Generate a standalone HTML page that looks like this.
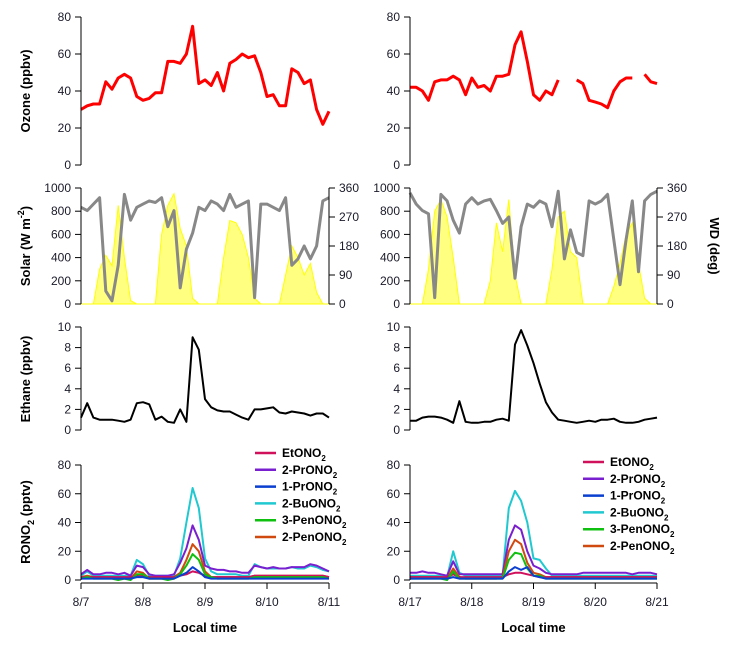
<!DOCTYPE html>
<html><head><meta charset="utf-8"><style>
html,body{margin:0;padding:0;background:#fff;}
svg{display:block;font-family:"Liberation Sans",Arial,sans-serif;}
.tk{font-size:12px;fill:#1a1a2a;}
.lab{font-size:13px;font-weight:bold;fill:#000;}
.leg{font-size:12px;font-weight:bold;fill:#000;}
</style></head><body>
<svg id="chart" width="733" height="645" viewBox="0 0 733 645" xmlns="http://www.w3.org/2000/svg"></svg>
<script>
// ---- data: samples every 0.1 day over 4 days (41 points) ----
const leftDates = ["8/7","8/8","8/9","8/10","8/11"];
const rightDates = ["8/17","8/18","8/19","8/20","8/21"];
const ozoneLeft = [30,32,33,33,45,41,47,49,47,37,35,36,39,39,56,56,55,60,75,44,46,43,50,40,55,57,60,58,59,50,37,38,32,32,52,50,44,46,30,22,29];
const ozoneRight = [42,42,40,35,45,46,46,48,46,38,47,42,43,40,48,48,49,65,72,56,38,35,40,38,46,null,null,46,44,35,34,33,31,40,45,47,47,null,49,45,44];
const solarLeft = [0,0,0,300,420,330,850,400,30,0,0,0,0,600,850,950,650,500,50,0,0,0,0,400,720,700,600,400,50,0,0,0,0,250,500,400,250,350,100,0,0];
const solarRight = [0,0,0,300,800,900,750,400,0,0,0,0,0,200,700,450,900,250,0,0,0,0,0,300,750,800,450,400,0,0,0,0,0,150,350,600,700,350,50,0,0];
const wdLeft = [300,290,310,330,40,10,120,340,260,300,310,320,315,330,240,290,50,170,220,300,290,320,310,290,340,300,310,320,20,310,310,300,290,330,120,140,180,140,180,320,330];
const wdRight = [345,310,290,280,20,340,320,260,220,310,330,310,320,325,290,250,270,80,240,310,300,320,310,240,350,140,230,160,150,320,310,320,340,200,60,200,320,100,320,340,350];
const ethaneLeft = [1.2,2.6,1.2,1.0,1.0,1.0,0.9,0.8,1.0,2.6,2.7,2.5,1.0,1.3,0.8,0.7,2.0,0.8,9.0,7.8,3.0,2.2,1.9,1.8,1.8,1.5,1.2,1.0,2.0,2.0,2.1,2.2,1.7,1.6,1.8,1.7,1.6,1.4,1.6,1.6,1.2];
const ethaneRight = [0.9,0.9,1.2,1.3,1.3,1.2,1.0,0.7,2.8,0.8,0.7,0.7,0.8,0.8,1.0,1.1,0.9,8.3,9.7,8.2,6.5,4.5,2.7,1.7,1.0,0.9,0.8,0.7,0.8,0.9,0.8,1.0,1.0,1.1,0.8,0.7,0.7,0.8,1.0,1.1,1.2];
const seriesNames = ["EtONO2","2-PrONO2","1-PrONO2","2-BuONO2","3-PenONO2","2-PenONO2"];
const seriesColors = ["#d0105a","#7a1fd0","#0a3fd0","#20c8d0","#10c010","#d04a10"];
const etLeft   = [2,2,2,2,2,2,2,2,2,3,3,2,2,2,2,2,3,4,6,5,3,2,2,2,2,2,2,2,3,3,3,3,3,3,3,3,3,3,3,3,2];
const prLeft   = [4,7,4,4,5,5,4,5,3,10,9,4,3,3,3,4,12,22,38,28,10,8,7,7,6,6,5,5,10,9,8,9,8,8,9,9,9,11,10,8,6];
const pr1Left  = [1,1,1,1,1,1,1,1,1,2,2,1,1,1,1,1,3,5,9,6,2,1,1,1,1,1,1,1,1,1,1,1,1,1,1,1,1,1,1,1,1];
const buLeft   = [3,6,3,3,3,3,3,3,3,14,11,3,3,3,3,3,15,40,64,50,15,6,4,4,4,4,3,3,11,9,8,8,8,8,9,8,8,10,9,7,6];
const pen3Left = [1,2,1,1,1,1,0,1,0,4,4,1,1,1,0,1,4,10,18,14,4,2,1,1,1,1,1,1,2,2,2,2,2,2,2,2,2,2,2,2,1];
const pen2Left = [2,3,2,2,2,2,1,2,1,6,5,1,1,1,1,2,5,14,25,20,6,2,2,2,2,2,2,2,3,3,3,3,3,3,3,3,3,3,3,3,2];
const etRight   = [2,2,2,2,2,2,2,4,2,2,2,2,2,2,2,2,4,5,5,4,3,2,2,2,2,2,2,2,2,2,2,2,2,2,2,2,2,2,2,2,2];
const prRight   = [5,5,6,5,5,4,3,13,4,4,4,4,4,4,4,4,28,38,35,20,10,8,5,4,4,4,4,4,5,5,5,5,5,5,5,5,4,5,5,5,4];
const pr1Right  = [1,1,1,1,1,1,1,2,1,1,1,1,1,1,1,1,6,9,7,9,3,2,1,1,1,1,1,1,1,1,1,1,1,1,1,1,1,1,1,1,1];
const buRight   = [3,3,3,3,3,3,2,20,5,3,3,3,3,3,3,3,50,62,55,40,15,14,8,3,3,3,3,3,3,3,3,3,3,3,3,3,3,3,3,3,3];
const pen3Right = [1,1,1,1,1,1,0,6,1,1,1,1,1,1,1,1,14,19,18,8,3,3,1,1,1,1,1,1,1,1,1,1,1,1,1,1,1,1,1,1,1];
const pen2Right = [2,2,2,2,2,2,1,8,2,1,1,1,1,1,1,2,20,28,25,12,5,4,2,2,2,2,2,2,2,2,2,2,2,2,2,2,2,2,2,2,2];
const ozoneTicks = [0,20,40,60,80];
const solarTicks = [0,200,400,600,800,1000];
const wdTicks = [0,90,180,270,360];
const ethaneTicks = [0,2,4,6,8,10];
const ronoTicks = [0,20,40,60,80];

const NS="http://www.w3.org/2000/svg";
const svg=document.getElementById('chart');
function mk(tag,attrs,parent){const e=document.createElementNS(NS,tag);for(const k in attrs)e.setAttribute(k,attrs[k]);(parent||svg).appendChild(e);return e;}
const cols={L:{x0:81,x1:329},R:{x0:410,x1:657}};
const rows={oz:{b:165,t:17,max:80},sol:{b:304,t:188,max:1000},wd:{b:304,t:188,max:360},eth:{b:430,t:327,max:10},ro:{b:580,t:465,max:80}};
function xs(c,i,n){return c.x0+(c.x1-c.x0)*i/(n-1);}
function ys(r,v){return r.b-(r.b-r.t)*v/r.max;}
function line(c,r,vals,color,w,name){
  let d="",pen=false;
  vals.forEach((v,i)=>{if(v===null){pen=false;return;}d+=(pen?"L":"M")+xs(c,i,vals.length).toFixed(1)+","+ys(r,v).toFixed(1);pen=true;});
  const p=mk('path',{d:d,fill:'none',stroke:color,'stroke-width':w,'stroke-linejoin':'round'});
  
  
}
function area(c,r,vals,name){
  let d="M"+c.x0+","+r.b;
  vals.forEach((v,i)=>{d+="L"+xs(c,i,vals.length).toFixed(1)+","+ys(r,v).toFixed(1);});
  d+="L"+c.x1+","+r.b+"Z";
  const p=mk('path',{d:d,fill:'#ffff80',stroke:'#ffff00','stroke-width':1});
  
  
}
function yaxis(x,r,ticks,side,name){
  const g=mk('g',{});
  
  
  mk('line',{x1:x,x2:x,y1:r.b,y2:r.t,stroke:'#000','stroke-width':1},g);
  ticks.forEach(v=>{
    const y=ys(r,v);
    const dx=side==='left'?-6:6;
    mk('line',{x1:x,x2:x+dx,y1:y,y2:y,stroke:'#000','stroke-width':1},g);
    const t=mk('text',{x:x+(side==='left'?-10:10),y:y+4,'text-anchor':side==='left'?'end':'start',class:'tk'},g);
    t.textContent=v;
  });
}
function xaxis(c,y,labels,name){
  const g=mk('g',{});
  
  
  mk('line',{x1:c.x0,x2:c.x1,y1:y,y2:y,stroke:'#000','stroke-width':1},g);
  labels.forEach((s,i)=>{
    const x=xs(c,i,labels.length);
    mk('line',{x1:x,x2:x,y1:y,y2:y+6,stroke:'#000','stroke-width':1},g);
    const t=mk('text',{x:x,y:y+23,'text-anchor':'middle',class:'tk'},g);t.textContent=s;
  });
  const t=mk('text',{x:(c.x0+c.x1)/2,y:y+49,'text-anchor':'middle',class:'lab','font-size':'14'},g);
  t.textContent='Local time';
}
function vlabel(x,y,txt,name,rot){
  const t=mk('text',{x:0,y:0,transform:`translate(${x},${y}) rotate(${rot||-90})`,'text-anchor':'middle',class:'lab'});
  t.innerHTML=txt;
  
  
}
// solar
area(cols.L,rows.sol,solarLeft,'solar-area-left');
area(cols.R,rows.sol,solarRight,'solar-area-right');
line(cols.L,rows.wd,wdLeft,'#888888',3,'wd-line-left');
line(cols.R,rows.wd,wdRight,'#888888',3,'wd-line-right');
// ozone
line(cols.L,rows.oz,ozoneLeft,'#ff0000',3,'ozone-line-left');
line(cols.R,rows.oz,ozoneRight,'#ff0000',3,'ozone-line-right');
// ethane
line(cols.L,rows.eth,ethaneLeft,'#000',2,'ethane-line-left');
line(cols.R,rows.eth,ethaneRight,'#000',2,'ethane-line-right');
// RONO2
const leftSeries=[etLeft,prLeft,pr1Left,buLeft,pen3Left,pen2Left];
const rightSeries=[etRight,prRight,pr1Right,buRight,pen3Right,pen2Right];
[3,1,5,0,4,2].forEach(i=>{
  line(cols.L,rows.ro,leftSeries[i],seriesColors[i],2,'rono2-line-left-'+i);
  line(cols.R,rows.ro,rightSeries[i],seriesColors[i],2,'rono2-line-right-'+i);
});
// axes
['L','R'].forEach(k=>{
  const c=cols[k];
  yaxis(c.x0,rows.oz,ozoneTicks,'left','ozone-y-axis-'+k);
  yaxis(c.x0,rows.sol,solarTicks,'left','solar-y-axis-'+k);
  yaxis(c.x1,rows.wd,wdTicks,'right','wd-y-axis-'+k);
  yaxis(c.x0,rows.eth,ethaneTicks,'left','ethane-y-axis-'+k);
  yaxis(c.x0,rows.ro,ronoTicks,'left','rono2-y-axis-'+k);
});
xaxis(cols.L,583,leftDates,'x-axis-left');
xaxis(cols.R,583,rightDates,'x-axis-right');
// labels
vlabel(30,91,'Ozone (ppbv)','ozone-y-title');
vlabel(30,246,'Solar (W m<tspan dy="-6" font-size="9">-2</tspan><tspan dy="6">)</tspan>','solar-y-title');
vlabel(710,246,'WD (deg)','wd-y-title',90);
vlabel(30,379,'Ethane (ppbv)','ethane-y-title');
vlabel(30,522,'RONO<tspan dy="4" font-size="9">2</tspan><tspan dy="-4"> (pptv)</tspan>','rono2-y-title');
// legends
function legend(x,y0,name){
  const g=mk('g',{});
  
  
  seriesNames.forEach((s,i)=>{
    const y=y0+i*16.8;
    mk('line',{x1:x,x2:x+21,y1:y,y2:y,stroke:seriesColors[i],'stroke-width':2.5},g);
    const t=mk('text',{x:x+27,y:y+4,class:'leg'},g);
    t.innerHTML=s.replace('ONO2','ONO<tspan dy="4" font-size="8">2</tspan>');
  });
}
legend(255,453,'legend-left');
legend(583,462,'legend-right');
</script>
</body></html>
